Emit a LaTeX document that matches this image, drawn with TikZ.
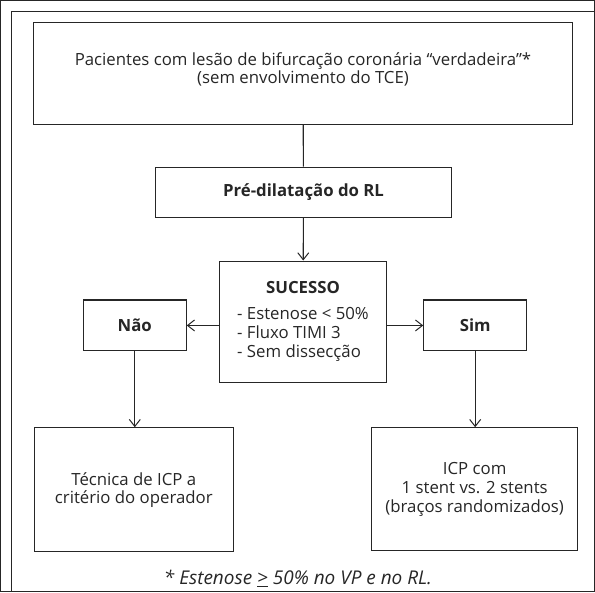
\documentclass[tikz,border=0pt]{standalone}
\usepackage{fontspec}
\setmainfont{Open Sans}
\usetikzlibrary{arrows.meta,positioning}

\begin{document}
\begin{tikzpicture}[x=1pt,y=-1pt]
    \tikzstyle{every path}=[line width=1.1pt,draw=black!85]
    \tikzstyle{fbox}=[draw,inner sep=0pt,align=center,text=black!85,font=\fontsize{16.8}{19}\selectfont]
    \tikzstyle{farrow}=[-{Straight Barb[length=7pt,width=11pt,line width=1pt]}]

    \useasboundingbox (0,0) rectangle (595,592);
    % frame
    \draw[line width=0.8pt] (10.6,592) -- (10.6,10.5) -- (595,10.5);

    \node[fbox,minimum width=540pt,minimum height=102pt] (pacientes) at (303,73)
      {Pacientes com lesão de bifurcação coronária “verdadeira”*\\[-1pt](sem envolvimento do TCE)\\[-8pt]\mbox{}};
    \node[fbox,minimum width=297pt,minimum height=50pt] (predil) at (303.5,192)
      {\textbf{Pré-dilatação do RL}};
    \node[fbox,minimum width=168pt,minimum height=122pt] (sucesso) at (303,322)
      {\begin{tabular}{@{}l@{}}
         \multicolumn{1}{@{}c@{}}{\textbf{SUCESSO}}\\[7pt]
         - Estenose < 50\%\\
         - Fluxo TIMI 3\\
         - Sem dissecção
       \end{tabular}};
    \node[fbox,minimum width=103pt,minimum height=51pt] (nao) at (134.5,325.5) {\textbf{Não}};
    \node[fbox,minimum width=103pt,minimum height=51pt] (sim) at (475.5,325.5) {\textbf{Sim}};
    \node[fbox,minimum width=199pt,minimum height=124pt] (tecnica) at (133.5,490)
      {Técnica de ICP a\\[-1pt]critério do operador};
    \node[fbox,minimum width=206pt,minimum height=123pt] (icp) at (475,489.5)
      {ICP com\\1 stent vs. 2 stents\\(braços randomizados)};
    \node[text=black!85,font=\fontsize{19}{20}\selectfont\itshape] (nota) at (298,579)
      {* Estenose \underline{>} 50\% no VP e no RL.};

    \draw (pacientes) -- (predil);
    \draw[farrow] (predil) -- (sucesso);
    \draw[farrow] (sucesso.west |- nao.east) -- (nao.east);
    \draw[farrow] (sucesso.east |- sim.west) -- (sim.west);
    \draw[farrow] (nao.south) -- (nao.south |- tecnica.north);
    \draw[farrow] (sim.south) -- (sim.south |- icp.north);
\end{tikzpicture}
\end{document}
